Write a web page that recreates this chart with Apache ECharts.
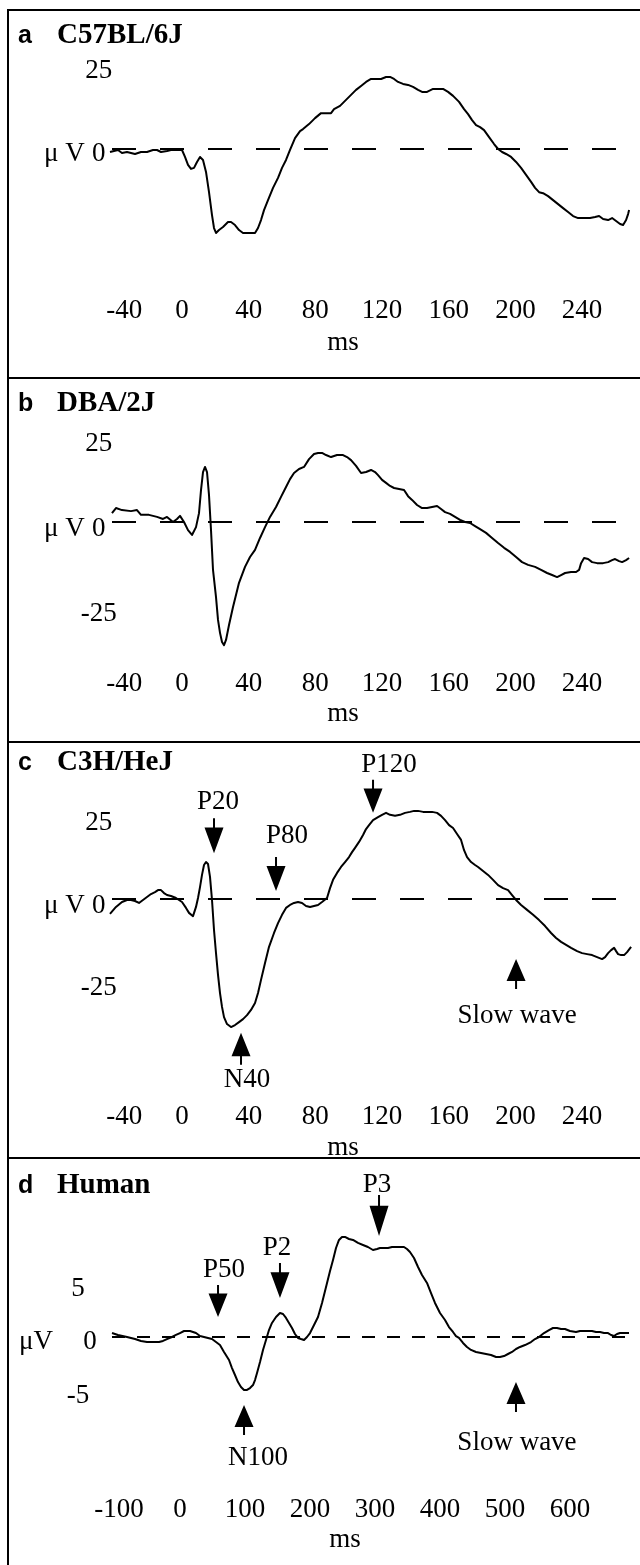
<!DOCTYPE html>
<html><head><meta charset="utf-8">
<script src="https://cdn.jsdelivr.net/npm/echarts@6/dist/echarts.min.js"></script>
<style>html,body{margin:0;padding:0;background:#fff}#c{width:640px;height:1565px}</style>
</head><body><div id="c"></div>
<script>
// ---------------- DATA (ms, µV) ----------------
const traceA = [[-43.2,-0.9],[-38.4,-0.3],[-36,-1.2],[-33,-0.9],[-28.2,-1.5],[-24.6,-0.9],[-21,-0.9],[-17.4,-0.3],[-15,-0.3],[-12.6,-0.9],[-9,-0.6],[-6.6,-0.3],[-3,-0.3],[0,-0.3],[1.8,-2.4],[3.6,-4.8],[5.4,-6.0],[7.2,-5.7],[9,-3.9],[10.8,-2.4],[12.6,-3.3],[14.4,-6.9],[16.2,-13.0],[18,-19.9],[19.2,-23.8],[20.4,-25.3],[22.2,-24.4],[24.6,-23.5],[27.6,-22.0],[29.4,-22.0],[31.8,-22.9],[34.2,-24.4],[36.6,-25.3],[40.8,-25.3],[43.8,-25.3],[45.6,-23.8],[47.4,-21.4],[49.2,-18.4],[51.6,-15.4],[54.6,-11.7],[57.6,-8.7],[60,-5.7],[62.4,-3.3],[64.8,-0.3],[67.8,3.3],[70.8,5.4],[72.6,6.0],[76.2,7.5],[79.8,9.3],[83.4,10.8],[86.4,10.8],[89.4,10.8],[91.2,12.0],[94.8,13.0],[98.4,14.8],[101.4,16.3],[104.4,17.8],[107.4,19.0],[110.4,20.2],[113.4,21.1],[116.4,21.1],[119.4,21.1],[122.4,21.7],[124.8,21.7],[127.2,21.1],[129.6,20.2],[132.6,19.6],[135.6,19.3],[138.6,18.7],[141.6,17.8],[144,17.2],[147,17.2],[150.6,18.1],[153.6,18.1],[156.6,18.1],[159.6,17.2],[162.6,16.0],[166.2,14.2],[169.2,12.0],[171.6,10.5],[174,8.7],[176.4,7.2],[178.8,6.6],[181.2,5.7],[184.2,3.6],[187.2,1.5],[189.6,0],[192,-0.9],[194.4,-1.5],[197.4,-2.4],[200.4,-3.9],[203.4,-5.7],[206.4,-7.8],[209.4,-9.9],[211.8,-11.7],[214.2,-13.0],[216.6,-13.3],[219.6,-14.2],[222.6,-15.4],[225.6,-16.6],[228.6,-17.8],[231.6,-19.0],[234.6,-20.2],[237.6,-20.8],[241.2,-20.8],[244.8,-20.8],[247.8,-20.5],[250.2,-20.2],[252.6,-21.1],[255.6,-21.4],[258,-20.8],[260.4,-21.7],[262.8,-22.6],[264.6,-22.9],[266.4,-21.4],[267.6,-19.6],[268.2,-18.4]];

const traceB = [[-42.0,2.6],[-39.6,4.1],[-36.0,3.5],[-30.6,3.2],[-27.0,3.5],[-24.6,2.1],[-19.8,2.1],[-15.0,1.5],[-11.4,0.9],[-9.0,1.5],[-5.4,0],[-3.0,0.9],[-1.2,1.8],[1.2,0],[3.6,-2.4],[6.0,-3.8],[8.4,-1.5],[10.2,2.6],[11.4,9.4],[12.6,14.7],[13.8,16.2],[15.0,14.7],[16.2,7.9],[17.4,-2.4],[18.6,-14.1],[20.4,-22.1],[21.6,-28.8],[22.8,-32.6],[24.0,-35.3],[25.2,-36.2],[26.4,-34.7],[28.2,-30.3],[30.6,-25.0],[34.2,-17.9],[37.8,-13.2],[40.8,-10.3],[43.8,-8.2],[46.8,-4.7],[49.8,-1.5],[52.8,1.5],[56.4,4.4],[59.4,7.4],[62.4,10.3],[64.8,12.6],[67.2,14.4],[70.2,15.6],[73.2,16.2],[76.2,18.5],[79.2,20.0],[81.6,20.3],[84.0,20.3],[86.4,19.7],[89.4,19.1],[93.0,19.7],[96.6,19.7],[99.0,19.1],[101.4,18.2],[104.4,16.5],[107.4,14.4],[110.4,14.7],[113.4,15.3],[115.8,14.7],[117.6,13.8],[120.0,12.4],[122.4,11.5],[124.8,10.6],[127.2,10.0],[130.2,9.7],[133.2,9.4],[135.6,7.6],[138.0,6.5],[141.0,5.0],[144.0,4.1],[147.0,4.1],[150.0,4.4],[153.0,4.7],[155.4,3.8],[157.8,2.9],[160.8,2.4],[163.8,1.5],[166.8,0.6],[169.8,0],[172.8,-0.3],[175.8,-1.2],[178.8,-2.1],[182.4,-3.2],[186.0,-4.7],[189.6,-6.2],[193.2,-7.6],[196.8,-8.8],[200.4,-10.3],[204.0,-11.8],[207.6,-12.6],[211.8,-13.2],[215.4,-14.1],[219.0,-15.0],[222.0,-15.6],[225.0,-16.2],[227.4,-15.6],[229.8,-15.0],[233.4,-14.7],[236.4,-14.7],[238.2,-14.1],[239.4,-12.1],[241.2,-10.6],[243.6,-10.9],[246.0,-11.8],[249.0,-12.1],[252.6,-12.1],[255.6,-11.8],[258.0,-11.2],[259.8,-10.9],[262.2,-11.5],[264.0,-11.8],[266.4,-11.2],[268.2,-10.6]];

const traceC = [[-43.2,-4.5],[-39.6,-2.4],[-36.0,-0.9],[-33.0,-0.3],[-30.6,-0.3],[-28.2,-0.6],[-25.8,-1.2],[-23.4,-0.3],[-21.0,0.6],[-18.6,1.5],[-16.2,2.1],[-14.4,2.7],[-12.6,2.7],[-10.8,1.8],[-9.0,1.2],[-6.6,0.9],[-3.6,0.3],[0,-0.9],[2.4,-2.7],[4.2,-4.2],[6.6,-5.2],[8.4,-2.4],[9.6,0.3],[10.8,3.6],[12.0,7.3],[13.2,10.3],[14.4,11.2],[15.6,10.6],[16.8,6.7],[18.0,-0.3],[19.2,-9.4],[20.4,-16.4],[21.6,-23.0],[22.8,-28.5],[24.0,-32.7],[25.2,-35.8],[27.0,-37.9],[29.4,-38.8],[31.8,-38.2],[34.2,-37.3],[36.6,-36.4],[39.0,-35.2],[41.4,-33.6],[43.8,-31.5],[45.6,-28.5],[47.4,-24.5],[49.8,-19.4],[52.2,-14.5],[55.2,-10.3],[57.6,-7.3],[60.0,-4.8],[62.4,-2.7],[64.8,-1.8],[67.2,-1.2],[69.6,-0.9],[72.0,-1.2],[74.4,-2.1],[76.8,-2.4],[79.2,-2.1],[81.6,-1.8],[84.0,-0.9],[87.0,0.3],[88.8,3.3],[90.6,5.8],[93.0,7.9],[95.4,9.7],[97.8,11.2],[100.2,12.7],[102.0,14.2],[103.8,15.5],[106.2,17.3],[108.6,19.4],[110.4,21.2],[112.2,22.4],[114.6,23.9],[117.6,24.8],[120.0,25.5],[122.4,26.1],[124.8,25.5],[127.8,25.2],[130.8,25.5],[133.8,26.1],[136.8,26.4],[139.2,26.7],[141.6,26.7],[144.6,26.4],[147.0,26.4],[150.0,26.4],[153.0,26.1],[155.4,25.2],[157.8,23.9],[160.2,22.4],[162.6,21.5],[165.0,19.7],[167.4,17.9],[169.2,14.8],[171.0,12.7],[173.4,11.2],[175.8,10.3],[177.6,9.7],[180.6,8.5],[183.6,7.3],[186.6,5.8],[189.6,4.2],[192.6,3.3],[195.6,2.7],[198.0,1.2],[200.4,-0.3],[203.4,-1.8],[207.0,-3.3],[210.6,-4.8],[214.2,-6.4],[217.8,-8.2],[221.4,-10.3],[224.4,-11.8],[227.4,-13.0],[230.4,-13.9],[233.4,-14.8],[237.0,-15.8],[240.0,-16.4],[243.0,-16.7],[246.0,-17.0],[249.0,-17.6],[252.0,-18.2],[253.8,-17.6],[255.6,-16.4],[257.4,-15.5],[259.2,-14.8],[260.4,-15.8],[261.6,-16.7],[263.4,-17.0],[265.2,-17.0],[267.0,-16.1],[269.4,-14.5]];

const traceD = [[-104.6,0.37],[-95.4,0.19],[-81.5,0],[-69.2,-0.19],[-60.0,-0.37],[-50.8,-0.47],[-41.5,-0.47],[-32.3,-0.47],[-26.2,-0.37],[-20.0,-0.19],[-12.3,0],[-6.2,0.19],[0,0.37],[6.2,0.56],[15.4,0.56],[20.0,0.47],[24.6,0.37],[30.8,0.09],[36.9,0],[43.1,-0.09],[49.2,-0.19],[55.4,-0.47],[61.5,-0.75],[67.7,-1.40],[75.4,-2.15],[80.0,-2.90],[84.6,-3.55],[89.2,-4.21],[93.8,-4.67],[98.5,-4.95],[103.1,-4.95],[107.7,-4.77],[112.3,-4.49],[115.4,-4.02],[118.5,-3.36],[123.1,-2.34],[127.7,-1.21],[132.3,-0.28],[136.9,0.65],[141.5,1.31],[147.7,1.87],[153.8,2.24],[158.5,2.15],[163.1,1.78],[167.7,1.31],[172.3,0.84],[176.9,0.28],[181.5,-0.09],[186.2,-0.19],[190.8,-0.28],[195.4,0],[200.0,0.37],[206.2,1.12],[212.3,1.87],[218.5,3.18],[226.2,5.05],[230.8,6.17],[235.4,7.20],[240.0,8.32],[244.6,9.07],[249.2,9.35],[253.8,9.35],[260.0,9.16],[266.2,9.07],[273.8,8.79],[281.5,8.60],[289.2,8.41],[296.9,8.13],[303.1,8.22],[307.7,8.32],[313.8,8.32],[320.0,8.32],[326.2,8.41],[332.3,8.41],[338.5,8.41],[344.6,8.41],[349.2,8.22],[353.8,7.94],[360.0,7.38],[366.2,6.54],[372.3,5.79],[380.0,5.05],[386.2,4.11],[392.3,3.18],[400.0,2.24],[407.7,1.59],[413.8,0.93],[420.0,0.47],[424.6,0.09],[429.2,-0.09],[435.4,-0.56],[441.5,-0.93],[447.7,-1.21],[455.4,-1.40],[463.1,-1.50],[470.8,-1.59],[478.5,-1.68],[486.2,-1.87],[492.3,-1.87],[498.5,-1.78],[504.6,-1.59],[510.8,-1.40],[516.9,-1.12],[523.1,-0.93],[530.8,-0.75],[540.0,-0.47],[546.2,-0.19],[552.3,0],[560.0,0.37],[567.7,0.65],[573.8,0.84],[580.0,0.84],[586.2,0.75],[592.3,0.75],[600.0,0.56],[609.2,0.47],[615.4,0.56],[621.5,0.56],[627.7,0.56],[633.8,0.56],[640.0,0.47],[646.2,0.47],[652.3,0.37],[658.5,0.37],[663.1,0.19],[667.7,0.09],[672.3,0.28],[676.9,0.37],[684.6,0.37],[690.8,0.37]];

// tick labels
const msTicksMouse = [-40, 0, 40, 80, 120, 160, 200, 240];
const msTicksHuman = [-100, 0, 100, 200, 300, 400, 500, 600];
const uvTicksA = [0, 25];
const uvTicksBC = [-25, 0, 25];
const uvTicksD = [-5, 0, 5];

// panel titles
const panelLetters = ['a', 'b', 'c', 'd'];
const panelNames = ['C57BL/6J', 'DBA/2J', 'C3H/HeJ', 'Human'];

// annotations: name, ms, µV at arrow centre, direction (down = points down)
const annC = [['P20', 19.2, 19.2, 'down'], ['P80', 56.4, 7.6, 'down'], ['P120', 114.6, 31.1, 'down'], ['N40', 35.4, -45.4, 'up'], ['Slow wave', 200.4, -22.7, 'up']];
const annD = [['P50', 58.5, 3.36, 'down'], ['P2', 153.8, 5.28, 'down'], ['P3', 306.2, 11.36, 'down'], ['N100', 98.5, -7.76, 'up'], ['Slow wave', 516.9, -5.6, 'up']];

// ---------------- LAYOUT (pixels) ----------------
const L = [
  {x0:182, kx:1.667, xMin:-44, xMax:269, zeroY:149, s:3.32, yMin:-30, yMax:30, xLabelY:311, msY:345.5, yShift:5, titleY:36, uText:'μ V', dash:[24,24], negShift:9},
  {x0:182, kx:1.667, xMin:-44, xMax:269, zeroY:522, s:3.4, yMin:-40, yMax:30, xLabelY:683.5, msY:716.5, yShift:7, titleY:404, uText:'μ V', dash:[24,24], negShift:9},
  {x0:182, kx:1.667, xMin:-44, xMax:270, zeroY:899, s:3.3, yMin:-50, yMax:40, xLabelY:1116.5, msY:1151, yShift:6.5, titleY:763, uText:'μ V', dash:[24,24], negShift:9},
  {x0:180, kx:0.65, xMin:-106, xMax:692, zeroY:1337, s:10.7, yMin:-8, yMax:14, xLabelY:1510, msY:1542.5, yShift:5, titleY:1186, uText:'μV', dash:[13,12], negShift:4}
];
const annLabelOffsetC = [[4,-33.5],[11,-38],[16,-31.5],[6,31],[1,42]];
const annLabelOffsetD = [[6,-31],[-3,-32.5],[-2,-30.5],[14,38],[1,46]];
const annSizeC = [[19,35],[19,34],[19,33],[19,32],[19,30]];
const annSizeD = [[19,32],[19,35],[19,41],[19,30],[19,30]];
const borderYs = [10, 378, 742, 1158];

const SERIF = '"Liberation Serif", "Times New Roman", serif';
const FS = 27;
const ARROW = 'path://M8.5,0 L10.5,0 L10.5,9 L19,9 L9.5,34 L0,9 L8.5,9 Z';

const traces = [traceA, traceB, traceC, traceD];
const xTicks = [msTicksMouse, msTicksMouse, msTicksMouse, msTicksHuman];
const yTicks = [uvTicksA, uvTicksBC, uvTicksBC, uvTicksD];
const anns = [[], [], [annC, annLabelOffsetC, annSizeC], [annD, annLabelOffsetD, annSizeD]];

const grids = [], xAxes = [], yAxes = [], series = [];
L.forEach((p, i) => {
  const gl = p.x0 + p.xMin * p.kx;
  const gr = p.x0 + p.xMax * p.kx;
  const top = p.zeroY - p.yMax * p.s;
  const h = (p.yMax - p.yMin) * p.s;
  const bottom = top + h;
  grids.push({left: gl, width: gr - gl, top: top, height: h, containLabel: false});
  const axisY = p.xLabelY - FS / 2;
  xAxes.push({
    type: 'value', gridIndex: i, min: p.xMin, max: p.xMax, position: 'bottom',
    offset: axisY - bottom,
    axisLine: {show: false}, axisTick: {show: false}, splitLine: {show: false},
    axisLabel: {
      customValues: xTicks[i], interval: 0, margin: 0, color: '#000', fontSize: FS, fontFamily: SERIF,
      formatter: v => v < 0 ? '{neg|' + v + '}' : String(v),
      rich: {neg: {padding: [0, 0, 0, 2 * p.negShift], fontSize: FS, fontFamily: SERIF, color: '#000'}}
    },
    name: 'ms', nameLocation: 'middle', nameGap: p.msY - 2.6 - FS / 2 - axisY,
    nameTextStyle: {color: '#000', fontSize: FS, fontFamily: SERIF, padding: [0, 2 * ((gl + gr) / 2 - (i === 3 ? 345 : 343)), 0, 0]}
  });
  const isD = i === 3;
  const margin = isD ? 10 : -2;
  const zW = isD ? 22 : 24;
  const right = gl - margin;
  const uPadR = isD ? (right - zW - 53) : 2;
  yAxes.push({
    type: 'value', gridIndex: i, min: p.yMin, max: p.yMax,
    axisLine: {show: false}, axisTick: {show: false}, splitLine: {show: false},
    axisLabel: {
      customValues: yTicks[i], interval: 0, margin: margin, color: '#000', fontSize: FS, fontFamily: SERIF,
      padding: [2 * p.yShift, 0, 0, 0],
      formatter: v => v === 0 ? '{u|' + p.uText + '}{z|0}' : '{n|' + v + '}',
      rich: {
        u: {fontSize: FS, fontFamily: SERIF, color: '#000', align: 'right', padding: [0, uPadR, 0, 0]},
        z: {fontSize: FS, fontFamily: SERIF, color: '#000', width: zW, align: 'center'},
        n: {fontSize: FS, fontFamily: SERIF, color: '#000', width: zW, align: 'center', padding: [0, isD ? 12 : 0, 0, 0]}
      }
    }
  });
  const mp = [];
  if (anns[i].length) {
    const [list, offs, sizes] = anns[i];
    list.forEach((a, k) => {
      mp.push({
        name: a[0], coord: [a[1], a[2]], symbol: ARROW, symbolSize: sizes[k],
        symbolRotate: a[3] === 'up' ? 180 : 0, symbolKeepAspect: false,
        itemStyle: {color: '#000'},
        label: {show: true, position: 'inside', offset: offs[k], formatter: '{b}', color: '#000', fontSize: FS, fontFamily: SERIF}
      });
    });
  }
  series.push({
    type: 'line', xAxisIndex: i, yAxisIndex: i, data: traces[i], showSymbol: false, symbol: 'none',
    clip: false, silent: true,
    lineStyle: {color: '#000', width: 2, join: 'round'},
    markLine: {
      silent: true, symbol: 'none', label: {show: false}, animation: false,
      lineStyle: {color: '#000', width: 2, type: p.dash, dashOffset: -(112 - gl)},
      emphasis: {disabled: true},
      data: [{yAxis: 0}]
    },
    markPoint: {silent: true, animation: false, data: mp}
  });
});

const graphic = [];
graphic.push({type: 'line', shape: {x1: 8, y1: borderYs[0] - 1, x2: 8, y2: 1565}, style: {stroke: '#000', lineWidth: 2}});
borderYs.forEach(y => graphic.push({type: 'line', shape: {x1: 7, y1: y, x2: 640, y2: y}, style: {stroke: '#000', lineWidth: 2}}));
L.forEach((p, i) => {
  graphic.push({type: 'text', x: 18, y: p.titleY, style: {text: panelLetters[i], font: 'bold 25px "Liberation Sans", Arial, sans-serif', fill: '#000', verticalAlign: 'middle', align: 'left'}});
  graphic.push({type: 'text', x: 57, y: p.titleY, style: {text: panelNames[i], font: 'bold 29px ' + SERIF, fill: '#000', verticalAlign: 'middle', align: 'left'}});
});

const chart = echarts.init(document.getElementById('c'), null, {renderer: 'canvas'});
chart.setOption({
  animation: false, backgroundColor: '#fff',
  grid: grids, xAxis: xAxes, yAxis: yAxes, series: series, graphic: graphic
});
</script></body></html>
